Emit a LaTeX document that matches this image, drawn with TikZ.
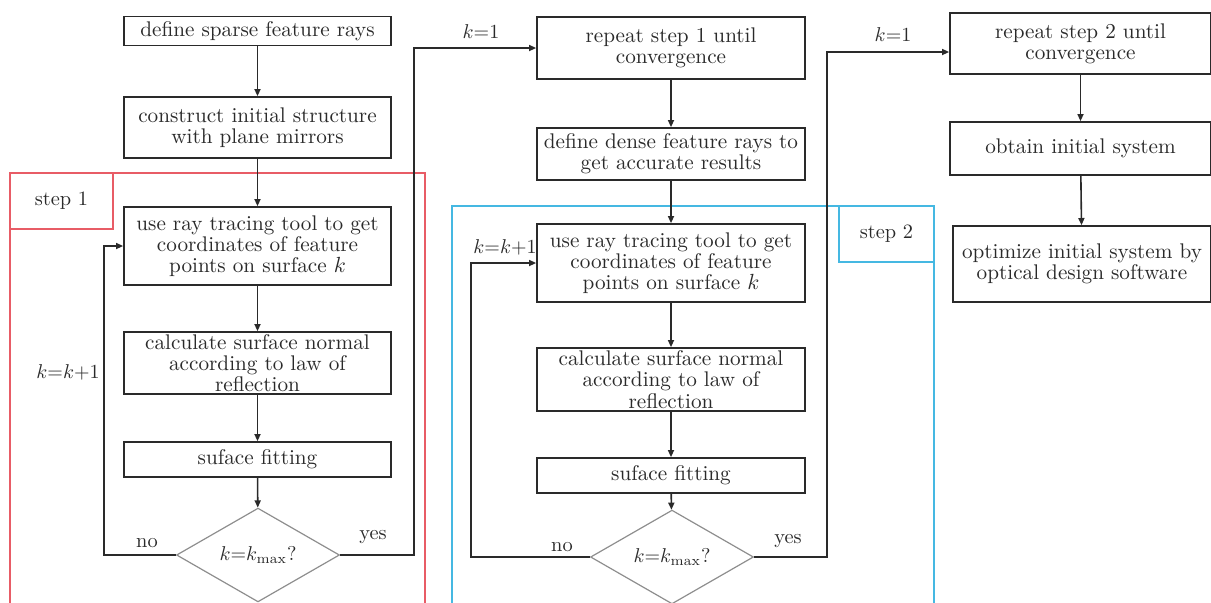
\documentclass[tikz,border=0pt]{standalone}
\usepackage{tikz}
\usetikzlibrary{arrows.meta,shapes.geometric}
\definecolor{fcInk}{HTML}{2A2A2A}
\definecolor{fcGray}{HTML}{8E8E8E}
\definecolor{fcRed}{HTML}{E85C66}
\definecolor{fcBlue}{HTML}{45B8E2}
\tikzset{
 chart/.style={font=\fontsize{10.2}{10.6}\selectfont,text=fcInk},
 box/.style={rectangle,draw=fcInk,line width=.8pt,inner sep=0pt,align=center,
   font=\fontsize{10.6}{10.6}\selectfont},
 test/.style={diamond,draw=fcGray,line width=.6pt,inner sep=0pt,
   minimum width=81.5pt,minimum height=30.5pt},
 flow/.style={draw=fcInk,line width=.8pt,-{Triangle[length=3.6pt,width=3pt]}},
 frame/.style={line width=.7pt},
 steptag/.style={rectangle,line width=.7pt,inner sep=0pt},
 tag/.style={inner sep=0pt}
}

\begin{document}
\begin{tikzpicture}[chart,x=.5pt,y=-.5pt]
 \useasboundingbox (0,0) rectangle (1211,602);
 \clip (0,0) rectangle (1211,602);
 % step frames
 \draw[fcRed,frame] (10,605) |- (425,173) -- (425,605);
 \node[steptag,draw=fcRed,minimum width=51.5pt,minimum height=28pt] (tag1) at (61.5,201) {step 1};
 \draw[fcBlue,frame] (452,605) |- (934,206) -- (934,605);
 \node[steptag,draw=fcBlue,minimum width=47.5pt,minimum height=28pt] (tag2) at (886.5,234) {step 2};
 % first column
 \node[box,minimum width=133.5pt,minimum height=14.5pt] (A) at (257.5,31) {define sparse feature rays};
 \node[box,minimum width=133.5pt,minimum height=30.5pt] (B) at (257.5,127.5) {construct initial structure\\with plane mirrors};
 \node[box,minimum width=133.5pt,minimum height=39pt] (C) at (257.5,246) {use ray tracing tool to get\\coordinates of feature\\points on surface $k$};
 \node[box,minimum width=133.5pt,minimum height=31pt] (D) at (257.5,363) {calculate surface normal\\according to law of\\reflection};
 \node[box,minimum width=133.5pt,minimum height=17.5pt] (E) at (257.5,459.5) {suface fitting};
 \node[test] (d1) at (258,555) {$k{=}k_{\mathrm{max}}?$};
 % second column
 \node[box,minimum width=134pt,minimum height=31pt] (F) at (671,48) {repeat step 1 until\\convergence};
 \node[box,minimum width=134pt,minimum height=26pt] (G) at (671,154) {define dense feature rays to\\get accurate results};
 \node[box,minimum width=134pt,minimum height=39pt] (H) at (671,263) {use ray tracing tool to get\\coordinates of feature\\points on surface $k$};
 \node[box,minimum width=134pt,minimum height=31.5pt] (I) at (671,379.5) {calculate surface normal\\according to law of\\reflection};
 \node[box,minimum width=134pt,minimum height=17.5pt] (J) at (671,475.5) {suface fitting};
 \node[test] (d2) at (672,557) {$k{=}k_{\mathrm{max}}?$};
 % third column
 \node[box,minimum width=130.5pt,minimum height=30.5pt] (K) at (1080.5,43.5) {repeat step 2 until\\convergence};
 \node[box,minimum width=130.5pt,minimum height=26.5pt] (L) at (1080.5,148.5) {obtain initial system};
 \node[box,minimum width=129pt,minimum height=38pt] (M) at (1082,264) {optimize initial system by\\optical design software};
 % turning points
 \coordinate (loop1) at (104,400);
 \coordinate (yes1) at (414,300);
 \coordinate (loop2) at (471,400);
 \coordinate (yes2) at (827,52);
 % connectors
 \draw[flow] (A) -- (B);
 \draw[flow] (B) -- (C);
 \draw[flow] (C) -- (D);
 \draw[flow] (D) -- (E);
 \draw[flow] (E) -- (d1);
 \draw[flow] (d1.west) -| (loop1) |- (C.west);
 \draw[flow] (d1.east) -| (yes1) |- (F.west);
 \draw[flow] (F) -- (G);
 \draw[flow] (G) -- (H);
 \draw[flow] (H) -- (I);
 \draw[flow] (I) -- (J);
 \draw[flow] (J) -- (d2);
 \draw[flow] (d2.west) -| (loop2) |- (H.west);
 \draw[flow] (d2.east) -| (yes2) -- (yes2 -| K.west);
 \draw[flow] (K) -- (L);
 \draw[flow] (L) -- (M);
 % labels
 \node[tag] (no1) at (147,543) {no};
 \node[tag] (ok1) at (373,537) {yes};
 \node[tag] (inc1) at (68,372) {$k{=}k{+}1$};
 \node[tag] (init1) at (481,32) {$k{=}1$};
 \node[tag] (no2) at (562,547) {no};
 \node[tag] (ok2) at (788,541) {yes};
 \node[tag] (inc2) at (505,247) {$k{=}k{+}1$};
 \node[tag] (init2) at (893,35) {$k{=}1$};
\end{tikzpicture}
\end{document}
